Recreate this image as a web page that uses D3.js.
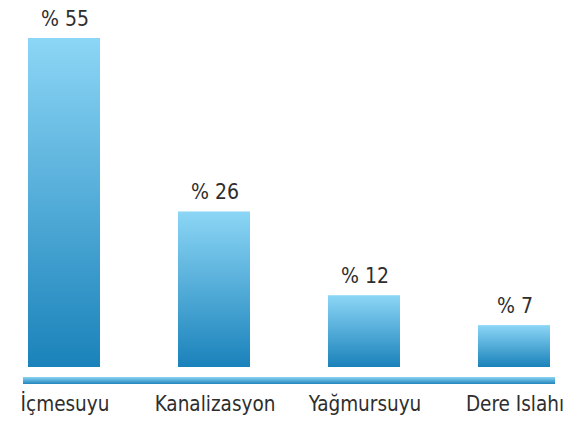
<!DOCTYPE html>
<html>
<head>
<meta charset="utf-8">
<script src="https://cdn.jsdelivr.net/npm/d3@7"></script>
<style>
  html, body { margin: 0; padding: 0; background: #fff; }
  svg { display: block; }
  text { font-family: "DejaVu Sans Condensed", "DejaVu Sans", sans-serif; fill: #2e2e2e; }
</style>
</head>
<body>
<svg id="chart" width="566" height="424"></svg>
<script>
  // data
  const categories = ['İçmesuyu', 'Kanalizasyon', 'Yağmursuyu', 'Dere Islahı'];
  const percents = [55, 26, 12, 7];
  const valueLabels = ['% 55', '% 26', '% 12', '% 7'];

  let svg = d3.select('#chart'),
    baseY = 367;

  let defs = svg.append('defs');

  // bar fill, light on top going darker to the bottom
  let barGrad = defs.append('linearGradient')
    .attr('id', 'bar-grad')
    .attr('x1', 0).attr('y1', 0).attr('x2', 0).attr('y2', 1);
  barGrad.append('stop').attr('offset', '0%').attr('stop-color', '#8cd6f6');
  barGrad.append('stop').attr('offset', '100%').attr('stop-color', '#1a82ba');

  let lineGrad = defs.append('linearGradient')
    .attr('id', 'line-grad')
    .attr('x1', 0).attr('y1', 0).attr('x2', 0).attr('y2', 1);
  lineGrad.append('stop').attr('offset', '0%').attr('stop-color', '#8ad4f4');
  lineGrad.append('stop').attr('offset', '100%').attr('stop-color', '#2385bd');

  let x = d3.scaleBand()
    .domain(categories)
    .range([-11, 589])
    .paddingInner(0.52)
    .paddingOuter(0.26);

  let y = d3.scaleLinear()
    .domain([0, 55])
    .range([baseY, 38]);

  let rows = categories.map((c, i) => ({ cat: c, value: percents[i], label: valueLabels[i] }));

  let bars = svg.append('g').classed('bars', true);

  bars.selectAll('rect')
    .data(rows)
    .enter().append('rect')
    .attr('x', d => x(d.cat))
    .attr('y', d => y(d.value))
    .attr('width', x.bandwidth())
    .attr('height', d => baseY - y(d.value))
    .style('fill', 'url(#bar-grad)');

  bars.selectAll('text')
    .data(rows)
    .enter().append('text')
    .attr('x', d => x(d.cat) + x.bandwidth() / 2 + 1)
    .attr('y', d => y(d.value) - 12)
    .attr('text-anchor', 'middle')
    .style('font-size', '21px')
    .text(d => d.label);

  // thick gradient baseline in place of an axis line
  svg.append('rect')
    .attr('x', 23)
    .attr('y', baseY + 10)
    .attr('width', 532)
    .attr('height', 7)
    .style('fill', 'url(#line-grad)');

  svg.append('g').classed('cats', true)
    .selectAll('text')
    .data(categories)
    .enter().append('text')
    .attr('x', d => x(d) + x.bandwidth() / 2 + 1)
    .attr('y', baseY + 44)
    .attr('text-anchor', 'middle')
    .style('font-size', '20.5px')
    .text(d => d);
</script>
</body>
</html>
